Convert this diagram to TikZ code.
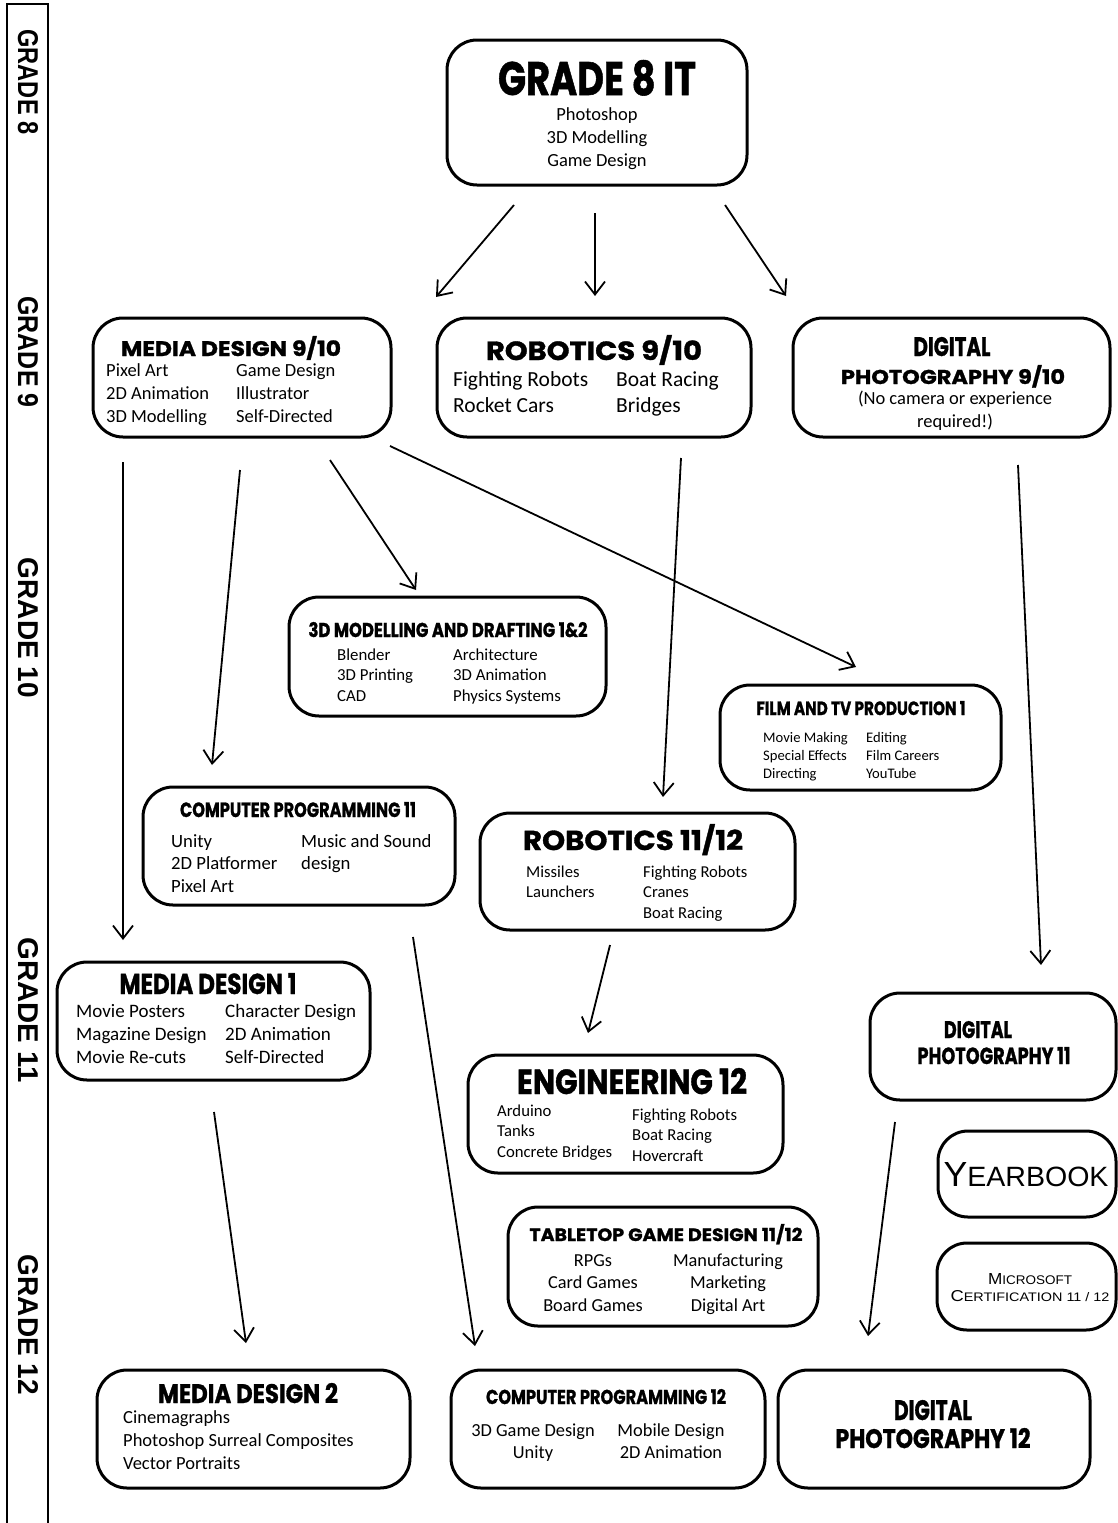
\documentclass[tikz,border=0pt]{standalone}
\usepackage{fontspec}
\newfontfamily\bodyfont{Carlito}
\newfontfamily\headfont[BoldFeatures={FakeBold=1.2}]{Poppins}
\newfontfamily\platefont{Liberation Sans}
\usetikzlibrary{arrows.meta}
\newcommand{\hd}[3]{\resizebox{#1pt}{#2pt}{\headfont\bfseries #3}}
\newcommand{\pl}[3]{\resizebox{#1pt}{#2pt}{\platefont #3}}
\newcommand{\bodysize}[2]{\bodyfont\fontsize{#1}{#2}\selectfont}
\newcommand{\lines}[1]{\vtop{\halign{##\hfil\cr#1\crcr}}}
\newcommand{\clines}[1]{\vtop{\halign{\hfil##\hfil\cr#1\crcr}}}
\tikzset{box/.style={draw, line width=3pt, rounded corners=30pt, inner sep=0pt, outer sep=0pt},
hd/.style={inner sep=0pt, anchor=base},
col/.style={inner sep=0pt, anchor=base west},
ccol/.style={inner sep=0pt, anchor=base},
link/.style={line width=1.8pt, -{Straight Barb[length=13pt,width=20pt]}},
grade/.style={rotate=-90, inner sep=0pt}}

\begin{document}
\begin{tikzpicture}[x=1pt, y=-1pt]
\useasboundingbox (0,0) rectangle (1118,1523);
% grade strip
\draw[line width=2pt] (7,1523) -- (7,4) -- (48,4) -- (48,1523);
\node[grade] (gr8) at (28,82) {\pl{105}{20}{\bfseries GRADE 8}};
\node[grade] (gr9) at (28,352) {\pl{111}{20}{\bfseries GRADE 9}};
\node[grade] (gr10) at (28,628) {\pl{140}{20}{\bfseries GRADE 10}};
\node[grade] (gr11) at (28,1010) {\pl{145}{20}{\bfseries GRADE 11}};
\node[grade] (gr12) at (28,1325) {\pl{140}{20}{\bfseries GRADE 12}};

% boxes
\node[box, minimum width=300pt, minimum height=145pt] (g8) at (597,112.5) {};
\node[box, minimum width=298pt, minimum height=119pt] (md910) at (242,377.5) {};
\node[box, minimum width=314pt, minimum height=119pt] (rob910) at (594,377.5) {};
\node[box, minimum width=317pt, minimum height=119pt] (dp910) at (951.5,377.5) {};
\node[box, minimum width=317pt, minimum height=119pt] (mod3d) at (447.5,656.5) {};
\node[box, minimum width=281pt, minimum height=105pt] (film) at (860.5,737.5) {};
\node[box, minimum width=312pt, minimum height=118pt] (cp11) at (299,846) {};
\node[box, minimum width=315pt, minimum height=117pt] (rob1112) at (637.5,871.5) {};
\node[box, minimum width=313pt, minimum height=118pt] (md1) at (213.5,1021) {};
\node[box, minimum width=246pt, minimum height=107pt] (dp11) at (993,1046.5) {};
\node[box, minimum width=315pt, minimum height=118pt] (eng12) at (625.5,1114) {};
\node[box, minimum width=178pt, minimum height=86pt] (yb) at (1027,1174) {};
\node[box, minimum width=310pt, minimum height=119pt] (ttg) at (663,1266.5) {};
\node[box, minimum width=179pt, minimum height=87pt] (ms) at (1026.5,1286.5) {};
\node[box, minimum width=313pt, minimum height=118pt] (md2) at (253.5,1429) {};
\node[box, minimum width=314pt, minimum height=118pt] (cp12) at (608,1429) {};
\node[box, minimum width=312pt, minimum height=118pt] (dp12) at (934,1429) {};

% titles
\node[hd] (g8-t) at (597,95) {\hd{198}{35}{GRADE 8 IT}};
\node[hd] (md910-t) at (231,356) {\hd{220}{20}{MEDIA DESIGN 9/10}};
\node[hd] (rob910-t) at (594,360) {\hd{216}{25}{ROBOTICS 9/10}};
\node[hd] (dp910-t1) at (952,356) {\hd{77}{19}{DIGITAL}};
\node[hd] (dp910-t2) at (953,384) {\hd{224}{19}{PHOTOGRAPHY 9/10}};
\node[hd] (mod3d-t) at (448,637) {\hd{279}{15}{3D MODELLING AND DRAFTING 1\&2}};
\node[hd] (film-t) at (861,715) {\hd{209}{14}{FILM AND TV PRODUCTION 1}};
\node[hd] (cp11-t) at (298,817) {\hd{236}{15}{COMPUTER PROGRAMMING 11}};
\node[hd] (rob1112-t) at (633,850) {\hd{220}{26}{ROBOTICS 11/12}};
\node[hd] (md1-t) at (208,994) {\hd{177}{21}{MEDIA DESIGN 1}};
\node[hd] (dp11-t1) at (978,1038) {\hd{68}{17}{DIGITAL}};
\node[hd] (dp11-t2) at (994,1064) {\hd{153}{17}{PHOTOGRAPHY 11}};
\node[hd] (eng12-t) at (632,1094) {\hd{230}{26}{ENGINEERING 12}};
\node[hd] (ttg-t) at (666,1241) {\hd{273}{17}{TABLETOP GAME DESIGN 11/12}};
\node[hd] (md2-t) at (248,1403) {\hd{180}{20}{MEDIA DESIGN 2}};
\node[hd] (cp12-t) at (606,1404) {\hd{240}{15}{COMPUTER PROGRAMMING 12}};
\node[hd] (dp12-t1) at (933,1420) {\hd{78}{20}{DIGITAL}};
\node[hd] (dp12-t2) at (933,1448) {\hd{195}{20}{PHOTOGRAPHY 12}};
\node[hd] (yb-t) at (1026,1186) {\pl{165}{24}{\fontsize{30}{30}\selectfont Y\fontsize{24}{24}\selectfont EARBOOK}};
\node[hd] (ms-t1) at (1030,1284) {\pl{84}{11}{\fontsize{14}{14}\selectfont M\fontsize{11}{11}\selectfont ICROSOFT}};
\node[hd] (ms-t2) at (1030,1301) {\pl{159}{11}{\fontsize{14}{14}\selectfont C\fontsize{11}{11}\selectfont ERTIFICATION 11 / 12}};

% course contents
\node[ccol, font=\bodysize{18.5}{23}] (g8-c) at (597,120) {\clines{Photoshop\cr 3D Modelling\cr Game Design}};
\node[col, font=\bodysize{18.5}{23}] (md910-l) at (106,376) {\lines{Pixel Art\cr 2D Animation\cr 3D Modelling}};
\node[col, font=\bodysize{18.5}{23}] (md910-r) at (236,376) {\lines{Game Design\cr Illustrator\cr Self-Directed}};
\node[col, font=\bodysize{21.5}{26}] (rob910-l) at (453,386) {\lines{Fighting Robots\cr Rocket Cars}};
\node[col, font=\bodysize{21.5}{26}] (rob910-r) at (616,386) {\lines{Boat Racing\cr Bridges}};
\node[ccol, font=\bodysize{18.5}{23}] (dp910-c) at (955,404) {\clines{(No camera or experience\cr required!)}};
\node[col, font=\bodysize{16.8}{20.5}] (mod3d-l) at (337,660) {\lines{Blender\cr 3D Printing\cr CAD}};
\node[col, font=\bodysize{16.8}{20.5}] (mod3d-r) at (453,660) {\lines{Architecture\cr 3D Animation\cr Physics Systems}};
\node[col, font=\bodysize{14.6}{18}] (film-l) at (763,742) {\lines{Movie Making\cr Special Effects\cr Directing}};
\node[col, font=\bodysize{14.6}{18}] (film-r) at (866,742) {\lines{Editing\cr Film Careers\cr YouTube}};
\node[col, font=\bodysize{18.7}{22.5}] (cp11-l) at (171,847) {\lines{Unity\cr 2D Platformer\cr Pixel Art}};
\node[col, font=\bodysize{18.7}{22.5}] (cp11-r) at (301,847) {\lines{Music and Sound\cr design}};
\node[col, font=\bodysize{16.6}{20.5}] (rob1112-l) at (526,877) {\lines{Missiles\cr Launchers}};
\node[col, font=\bodysize{16.6}{20.5}] (rob1112-r) at (643,877) {\lines{Fighting Robots\cr Cranes\cr Boat Racing}};
\node[col, font=\bodysize{19}{23}] (md1-l) at (76,1017) {\lines{Movie Posters\cr Magazine Design\cr Movie Re-cuts}};
\node[col, font=\bodysize{19}{23}] (md1-r) at (225,1017) {\lines{Character Design\cr 2D Animation\cr Self-Directed}};
\node[col, font=\bodysize{16.7}{20.5}] (eng12-l) at (497,1116) {\lines{Arduino\cr Tanks\cr Concrete Bridges}};
\node[col, font=\bodysize{16.7}{20.5}] (eng12-r) at (632,1120) {\lines{Fighting Robots\cr Boat Racing\cr Hovercraft}};
\node[ccol, font=\bodysize{18.3}{22.5}] (ttg-l) at (593,1266) {\clines{RPGs\cr Card Games\cr Board Games}};
\node[ccol, font=\bodysize{18.3}{22.5}] (ttg-r) at (728,1266) {\clines{Manufacturing\cr Marketing\cr Digital Art}};
\node[col, font=\bodysize{18.5}{23}] (md2-l) at (123,1423) {\lines{Cinemagraphs\cr Photoshop Surreal Composites\cr Vector Portraits}};
\node[ccol, font=\bodysize{18.4}{22}] (cp12-l) at (533,1436) {\clines{3D Game Design\cr Unity}};
\node[ccol, font=\bodysize{18.4}{22}] (cp12-r) at (671,1436) {\clines{Mobile Design\cr 2D Animation}};

% arrow ends
\coordinate (g8-o1) at (514,205);   \coordinate (md910-i) at (436,297);
\coordinate (g8-o2) at (595,213);   \coordinate (rob910-i) at (595,296);
\coordinate (g8-o3) at (725,205);   \coordinate (dp910-i) at (786,296);
\coordinate (md910-o1) at (123,462); \coordinate (md1-i) at (123,940);
\coordinate (md910-o2) at (240,470); \coordinate (cp11-i) at (212,765);
\coordinate (md910-o3) at (330,460); \coordinate (mod3d-i) at (416,590);
\coordinate (md910-o4) at (390,446); \coordinate (film-i) at (856,667);
\coordinate (rob910-o) at (681,458); \coordinate (rob1112-i) at (663,797);
\coordinate (dp910-o) at (1018,465); \coordinate (dp11-i) at (1041,965);
\coordinate (rob1112-o) at (610,945); \coordinate (eng12-i) at (588,1033);
\coordinate (md1-o) at (214,1112);   \coordinate (md2-i) at (246,1343);
\coordinate (cp11-o) at (413,937);   \coordinate (cp12-i) at (475,1346);
\coordinate (dp11-o) at (895,1122);  \coordinate (dp12-i) at (868,1336);

\draw[link] (g8-o1) -- (md910-i);
\draw[link] (g8-o2) -- (rob910-i);
\draw[link] (g8-o3) -- (dp910-i);
\draw[link] (md910-o1) -- (md1-i);
\draw[link] (md910-o2) -- (cp11-i);
\draw[link] (md910-o3) -- (mod3d-i);
\draw[link] (md910-o4) -- (film-i);
\draw[link] (rob910-o) -- (rob1112-i);
\draw[link] (dp910-o) -- (dp11-i);
\draw[link] (rob1112-o) -- (eng12-i);
\draw[link] (md1-o) -- (md2-i);
\draw[link] (cp11-o) -- (cp12-i);
\draw[link] (dp11-o) -- (dp12-i);
\end{tikzpicture}
\end{document}
